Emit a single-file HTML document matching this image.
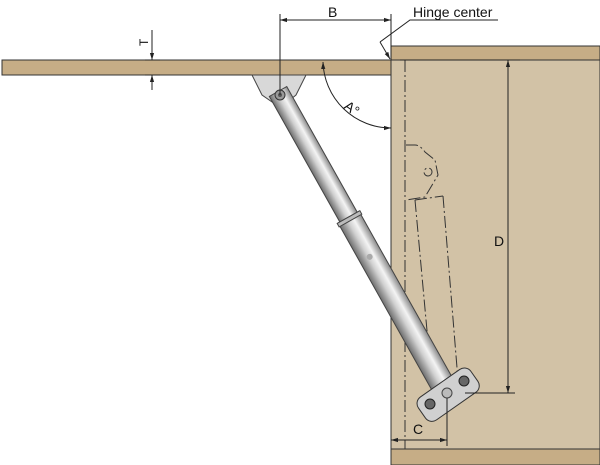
<!DOCTYPE html>
<html><head><style>body{margin:0;background:#fff}svg{display:block}</style></head><body>
<svg width="600" height="465" viewBox="0 0 600 465" xmlns="http://www.w3.org/2000/svg" font-family="Liberation Sans, sans-serif">
<defs>
<linearGradient id="rod" x1="0" y1="0" x2="0" y2="1">
<stop offset="0" stop-color="#8a8a8a"/><stop offset="0.35" stop-color="#f4f4f4"/><stop offset="0.6" stop-color="#d0d0d0"/><stop offset="1" stop-color="#6e6e6e"/>
</linearGradient>
<marker id="ar" viewBox="0 0 10 10" refX="10" refY="5" markerWidth="7" markerHeight="7" orient="auto-start-reverse"><path d="M0,2 L10,5 L0,8z" fill="#222"/></marker>
</defs>
<rect x="391" y="60" width="209" height="389" fill="#d2c2a6" stroke="#333" stroke-width="1"/>
<rect x="391" y="46" width="209" height="14" fill="#c6ad86" stroke="#333" stroke-width="1"/>
<rect x="391" y="449" width="209" height="16" fill="#c6ad86" stroke="#333" stroke-width="1"/>
<rect x="2" y="60" width="389" height="15" fill="#c6ad86" stroke="#333" stroke-width="1"/>
<line x1="405" y1="60" x2="405" y2="449" stroke="#333" stroke-width="1" stroke-dasharray="12,3,2,3"/>
<g fill="none" stroke="#333" stroke-width="1" stroke-dasharray="12,3,2,3">
<path d="M406,145 L415,145 Q420,145 425,152 L435,160 L438,175 L425,197 L406,200"/>
<circle cx="428" cy="172" r="4"/>
<path d="M415,200 L432,385 M443,196 L458,380"/>
<path d="M415,200 L443,196"/>
</g>
<path d="M252,75 L306,75 L296,95 L285,104 L275,104 L262,95 Z" fill="#d8d8d8" stroke="#444"/>
<g transform="translate(280,95) rotate(60.7)">
<rect x="-4" y="-10" width="150" height="20" fill="url(#rod)" stroke="#444"/>
<rect x="140" y="-12" width="200" height="24" fill="url(#rod)" stroke="#444"/>
<rect x="140" y="-13" width="4" height="26" fill="#bbb" stroke="#444"/>
<circle cx="185" cy="1" r="3" fill="#aaa"/>
</g>
<circle cx="280" cy="95" r="5" fill="#999" stroke="#333"/><circle cx="280" cy="95" r="2" fill="#555"/>
<g transform="translate(447,393) rotate(-35)">
<rect x="-32" y="-12" width="64" height="28" rx="8" fill="#d0d0d0" stroke="#333"/>
</g>
<circle cx="430" cy="404" r="5" fill="#666" stroke="#222"/>
<circle cx="464" cy="381" r="5" fill="#666" stroke="#222"/>
<circle cx="447" cy="393" r="5" fill="#bbb" stroke="#444"/>
<g stroke="#222" stroke-width="1" fill="none">
<line x1="280" y1="14" x2="280" y2="95"/>
<line x1="391" y1="14" x2="391" y2="60"/>
<line x1="280" y1="20" x2="391" y2="20" marker-start="url(#ar)" marker-end="url(#ar)"/>
<line x1="152" y1="30" x2="152" y2="60" marker-end="url(#ar)"/>
<line x1="152" y1="90" x2="152" y2="75" marker-end="url(#ar)"/>
<line x1="145" y1="60" x2="160" y2="60"/><line x1="145" y1="75" x2="160" y2="75"/>
<path d="M323,62 A68,68 0 0 0 391,128" marker-start="url(#ar)" marker-end="url(#ar)"/>
<polyline points="498,20 410,20 380,42"/>
<line x1="380" y1="42" x2="390" y2="59" marker-end="url(#ar)"/>
<line x1="400" y1="60" x2="520" y2="60"/>
<line x1="465" y1="393" x2="515" y2="393"/>
<line x1="508" y1="60" x2="508" y2="393" marker-start="url(#ar)" marker-end="url(#ar)"/>
<line x1="447" y1="398" x2="447" y2="446"/>
<line x1="391" y1="440" x2="447" y2="440" marker-start="url(#ar)" marker-end="url(#ar)"/>
</g>
<g font-size="14" fill="#111">
<text x="328" y="17">B</text>
<text x="413" y="17">Hinge center</text>
<text x="494" y="246">D</text>
<text x="413" y="434">C</text>
<text transform="translate(148,46) rotate(-90)" font-size="12">T</text>
<text transform="translate(343,108) rotate(35)">A°</text>
</g>
</svg>
</body></html>
